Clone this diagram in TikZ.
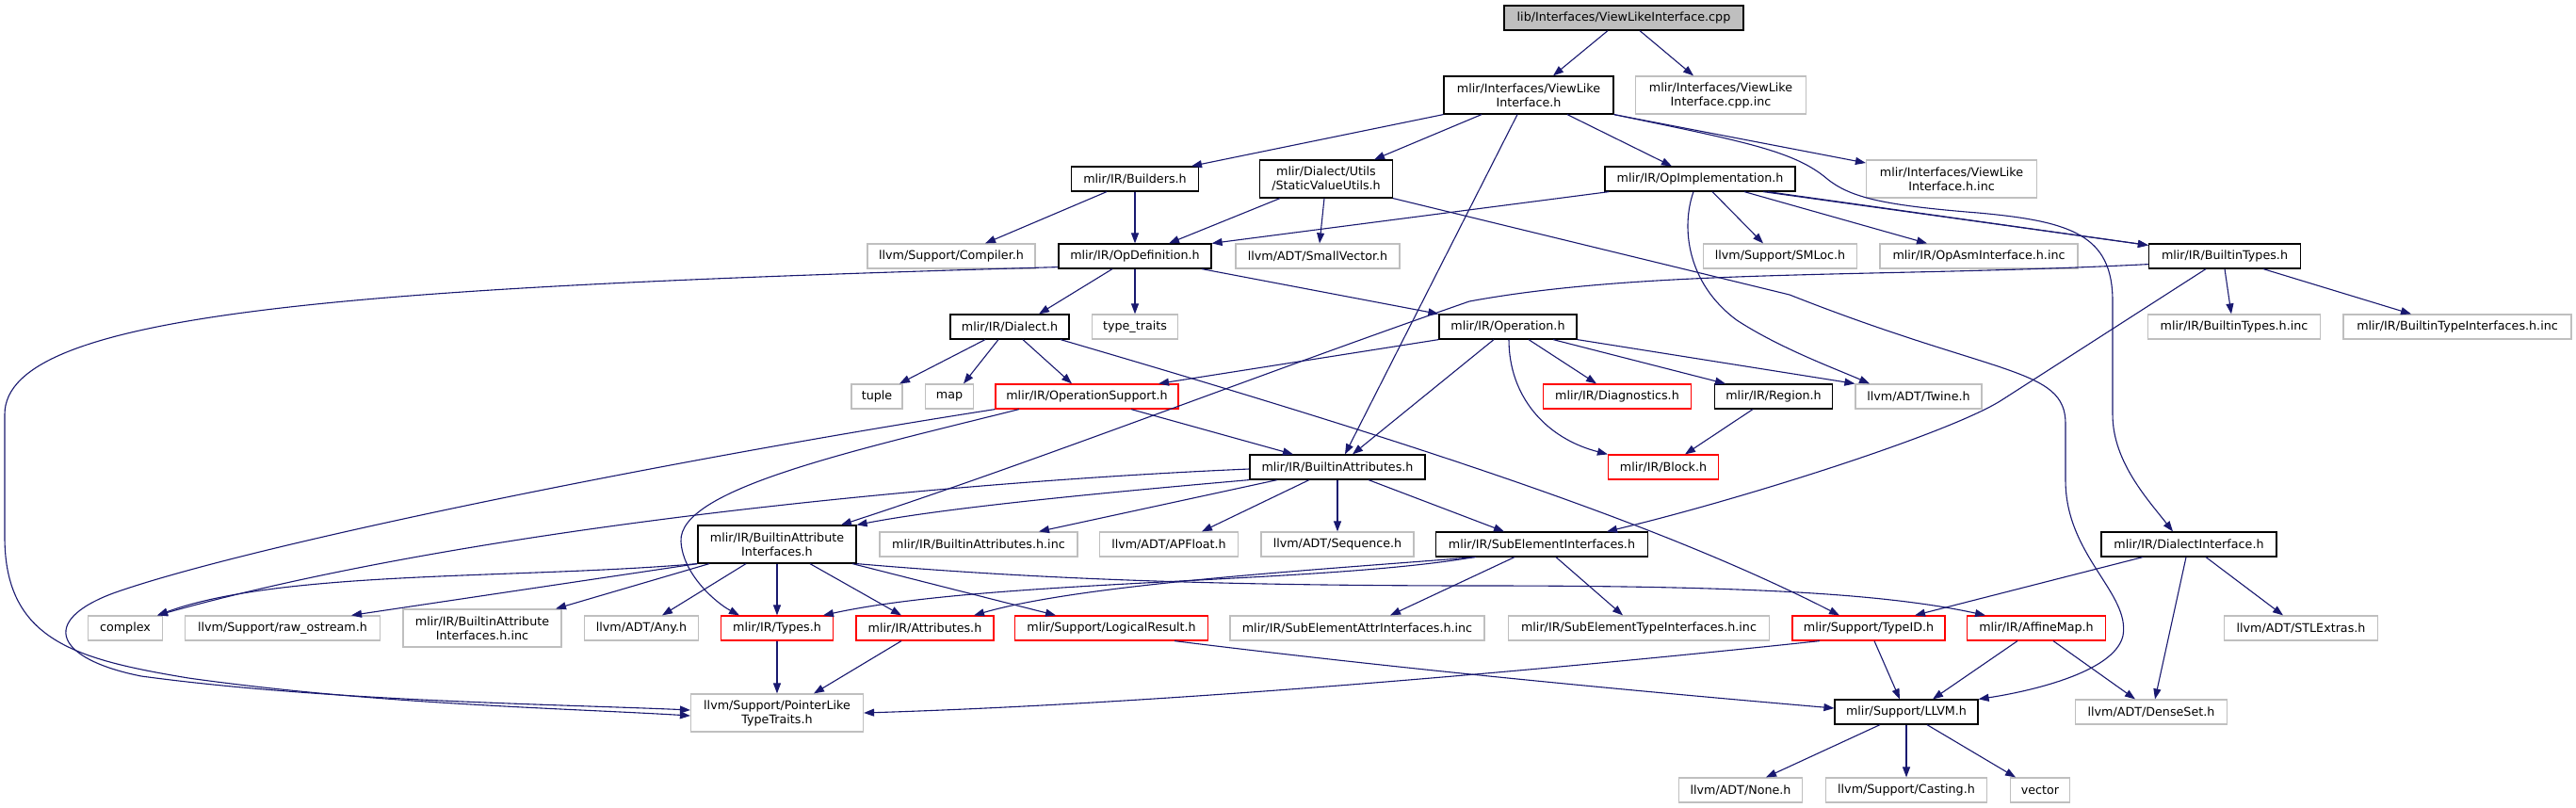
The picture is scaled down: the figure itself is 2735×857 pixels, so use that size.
\documentclass[tikz,border=0pt]{standalone}
\usepackage{fontspec}
\setmainfont{DejaVu Sans}
\usetikzlibrary{arrows.meta}
\definecolor{edgecol}{HTML}{191970}
\definecolor{graybd}{HTML}{BFBFBF}
\definecolor{redbd}{HTML}{FF0000}
\definecolor{rootfill}{HTML}{BFBFBF}
\newcommand\nfs{\fontsize{12.7}{15}\selectfont}
\tikzset{
  box/.style={draw=black, line width=1.2pt, inner sep=0pt, align=center, font=\nfs, minimum height=26pt},
  tall/.style={minimum height=40pt},
  ext/.style={box, draw=graybd},
  trunc/.style={box, draw=redbd},
  root/.style={box, fill=rootfill, draw=black},
  e/.style={draw=edgecol, line width=1.1pt, -{Triangle[length=11pt,width=8pt]}}
}
\begin{document}
\begin{tikzpicture}[x=1pt,y=-1pt]
\fill[white] (0,0) rectangle (2735,857);
\useasboundingbox (0,0) rectangle (2735,857);
% row 0
\node[root, minimum width=254pt] (cpp) at (1724,19) {lib/Interfaces/ViewLikeInterface.cpp};
% row 1
\node[box, tall, minimum width=180pt] (vlh) at (1623,101) {mlir/Interfaces/ViewLike\\Interface.h};
\node[ext, tall, minimum width=181pt] (cppinc) at (1827,101) {mlir/Interfaces/ViewLike\\Interface.cpp.inc};
% row 2
\node[box, minimum width=135pt] (builders) at (1205,190) {mlir/IR/Builders.h};
\node[box, tall, minimum width=141pt] (svu) at (1408,190) {mlir/Dialect/Utils\\/StaticValueUtils.h};
\node[box, minimum width=202pt] (opimpl) at (1805,190) {mlir/IR/OpImplementation.h};
\node[ext, tall, minimum width=181pt] (hinc) at (2072,190) {mlir/Interfaces/ViewLike\\Interface.h.inc};
% row 3
\node[ext, minimum width=178pt] (compiler) at (1010,272) {llvm/Support/Compiler.h};
\node[box, minimum width=162pt] (opdef) at (1205,272) {mlir/IR/OpDefinition.h};
\node[ext, minimum width=174pt] (smallvec) at (1399,272) {llvm/ADT/SmallVector.h};
\node[ext, minimum width=163pt] (smloc) at (1890,272) {llvm/Support/SMLoc.h};
\node[ext, minimum width=210pt] (opasm) at (2101,272) {mlir/IR/OpAsmInterface.h.inc};
\node[box, minimum width=161pt] (btypes) at (2362,272) {mlir/IR/BuiltinTypes.h};
% row 4
\node[box, minimum width=126pt] (dialect) at (1072,347) {mlir/IR/Dialect.h};
\node[ext, minimum width=91pt] (typetraits) at (1205,347) {type\_traits};
\node[box, minimum width=146pt] (operation) at (1601,347) {mlir/IR/Operation.h};
\node[ext, minimum width=183pt] (btinc) at (2372,347) {mlir/IR/BuiltinTypes.h.inc};
\node[ext, minimum width=242pt] (btiinc) at (2609,347) {mlir/IR/BuiltinTypeInterfaces.h.inc};
% row 5
\node[ext, minimum width=54pt] (tuple) at (931,421) {tuple};
\node[ext, minimum width=51pt] (map) at (1008,421) {map};
\node[trunc, minimum width=194pt] (opsupport) at (1154,421) {mlir/IR/OperationSupport.h};
\node[trunc, minimum width=157pt] (diag) at (1717,421) {mlir/IR/Diagnostics.h};
\node[box, minimum width=125pt] (region) at (1883,421) {mlir/IR/Region.h};
\node[ext, minimum width=134pt] (twine) at (2037,421) {llvm/ADT/Twine.h};
% row 6
\node[box, minimum width=186pt] (battr) at (1420,496) {mlir/IR/BuiltinAttributes.h};
\node[trunc, minimum width=117pt] (block) at (1766,496) {mlir/IR/Block.h};
% row 7
\node[box, tall, minimum width=168pt] (bai) at (825,578) {mlir/IR/BuiltinAttribute\\Interfaces.h};
\node[ext, minimum width=210pt] (bainc) at (1039,578) {mlir/IR/BuiltinAttributes.h.inc};
\node[ext, minimum width=147pt] (apfloat) at (1241,578) {llvm/ADT/APFloat.h};
\node[ext, minimum width=162pt] (sequence) at (1420,578) {llvm/ADT/Sequence.h};
\node[box, minimum width=225pt] (subel) at (1637,578) {mlir/IR/SubElementInterfaces.h};
\node[box, minimum width=186pt] (dialectif) at (2324,578) {mlir/IR/DialectInterface.h};
% row 8
\node[ext, minimum width=79pt] (complex) at (133,667) {complex};
\node[ext, minimum width=207pt] (rawos) at (300,667) {llvm/Support/raw\_ostream.h};
\node[ext, tall, minimum width=168pt] (baiinc) at (512,667) {mlir/IR/BuiltinAttribute\\Interfaces.h.inc};
\node[ext, minimum width=121pt] (any) at (681,667) {llvm/ADT/Any.h};
\node[trunc, minimum width=119pt] (types) at (825,667) {mlir/IR/Types.h};
\node[trunc, minimum width=146pt] (attrs) at (982,667) {mlir/IR/Attributes.h};
\node[trunc, minimum width=205pt] (logres) at (1180,667) {mlir/Support/LogicalResult.h};
\node[ext, minimum width=270pt] (seainc) at (1441,667) {mlir/IR/SubElementAttrInterfaces.h.inc};
\node[ext, minimum width=277pt] (setinc) at (1740,667) {mlir/IR/SubElementTypeInterfaces.h.inc};
\node[trunc, minimum width=162pt] (typeid) at (1984,667) {mlir/Support/TypeID.h};
\node[trunc, minimum width=147pt] (affine) at (2162,667) {mlir/IR/AffineMap.h};
\node[ext, minimum width=163pt] (stlextras) at (2443,667) {llvm/ADT/STLExtras.h};
% row 9
\node[ext, tall, minimum width=183pt] (ptrlike) at (825,757) {llvm/Support/PointerLike\\TypeTraits.h};
\node[box, minimum width=152pt] (llvmh) at (2024,756) {mlir/Support/LLVM.h};
\node[ext, minimum width=161pt] (denseset) at (2284,756) {llvm/ADT/DenseSet.h};
% row 10
\node[ext, minimum width=131pt] (none) at (1848,839) {llvm/ADT/None.h};
\node[ext, minimum width=171pt] (casting) at (2024,839) {llvm/Support/Casting.h};
\node[ext, minimum width=63pt] (vector) at (2166,839) {vector};

% edges
\draw[e] ([xshift=-17]cpp.south) -- ([xshift=26]vlh.north);
\draw[e] ([xshift=17]cpp.south) -- ([xshift=-29]cppinc.north);
\draw[e] (vlh.south west) -- ([xshift=60]builders.north);
\draw[e] ([xshift=-50]vlh.south) -- ([xshift=51]svu.north);
\draw[e] ([xshift=-12]vlh.south) -- ([xshift=8]battr.north);
\draw[e] ([xshift=41]vlh.south) -- ([xshift=-30]opimpl.north);
\draw[e] (vlh.south east) -- ([yshift=17]hinc.west);
\draw[e] (vlh.south east) .. controls (1850,150) and (1905,160) .. (1940,190)
  .. controls (1965,210) and (2000,218) .. (2100,226)
  .. controls (2200,235) and (2243,250) .. (2243,320) -- (2243,440)
  .. controls (2243,490) and (2280,530) .. ([xshift=-17]dialectif.north);
\draw[e] ([xshift=5]opimpl.south west) -- (opdef.north east);
\draw[e] ([xshift=13]opimpl.south) -- ([xshift=-18]smloc.north);
\draw[e] ([xshift=47]opimpl.south) -- ([xshift=-55]opasm.north);
\draw[e] ([xshift=67]opimpl.south) -- ([yshift=-2]btypes.north west);
\draw[e] ([xshift=72]opimpl.south) -- ([yshift=-2]btypes.north west);
\draw[e] ([xshift=-7]opimpl.south) .. controls (1785,240) and (1790,300) .. (1844,340)
  .. controls (1890,370) and (1950,392) .. ([xshift=-52]twine.north);
\draw[e] ([xshift=-30]builders.south) -- ([xshift=36]compiler.north);
\draw[e] (builders.south) -- (opdef.north);
\draw[e] ([xshift=-49]svu.south) -- ([xshift=36]opdef.north);
\draw[e] ([xshift=-2]svu.south) -- ([xshift=2]smallvec.north);
\draw[e] (svu.south east) -- (1900,313) .. controls (2120,400) and (2193,390) .. (2193,450) -- (2193,510)
  .. controls (2193,590) and (2262,630) .. (2254,675)
  .. controls (2245,715) and (2150,735) .. (llvmh.north east);
\draw[e] ([xshift=-24]opdef.south) -- ([xshift=31]dialect.north);
\draw[e] (opdef.south) -- (typetraits.north);
\draw[e] ([xshift=71]opdef.south) -- (operation.north west);
\draw[e] ([yshift=2]opdef.south west) .. controls (380,305) and (5,330) .. (5,440) -- (5,570)
  .. controls (5,680) and (80,700) .. (200,720)
  .. controls (400,748) and (600,752) .. ([yshift=-3]ptrlike.west);
\draw[e] ([xshift=-26]dialect.south) -- ([xshift=24]tuple.north);
\draw[e] ([xshift=-12]dialect.south) -- ([xshift=15]map.north);
\draw[e] ([xshift=14]dialect.south) -- ([xshift=-16]opsupport.north);
\draw[e] ([xshift=54]dialect.south) .. controls (1500,470) and (1760,555) .. ([xshift=-31]typeid.north);
\draw[e] (operation.south west) -- ([xshift=76]opsupport.north);
\draw[e] ([xshift=-15]operation.south) -- ([xshift=16]battr.north);
\draw[e] ([xshift=1]operation.south) .. controls (1602,420) and (1640,465) .. (block.north west);
\draw[e] ([xshift=22]operation.south) -- ([xshift=-22]diag.north);
\draw[e] ([xshift=48]operation.south) -- ([xshift=-51]region.north);
\draw[e] (operation.south east) -- (twine.north west);
\draw[e] ([xshift=-22]region.south) -- ([xshift=23]block.north);
\draw[e] (btypes.south) -- ([xshift=-3]btinc.north);
\draw[e] ([xshift=41]btypes.south) -- ([xshift=-49]btiinc.north);
\draw[e] ([yshift=5]btypes.south west) .. controls (2000,295) and (1750,285) .. (1560,320)
  .. controls (1330,400) and (1100,490) .. ([xshift=68]bai.north);
\draw[e] ([xshift=-20]btypes.south) -- (2125,425) .. controls (2070,460) and (1850,530) .. ([xshift=69]subel.north);
\draw[e] ([xshift=47]opsupport.south) -- ([xshift=-47]battr.north);
\draw[e] ([xshift=-72]opsupport.south) .. controls (900,480) and (720,520) .. (723,575)
  .. controls (725,610) and (760,640) .. ([xshift=-40]types.north);
\draw[e] (opsupport.south west) .. controls (700,490) and (260,580) .. (120,630)
  .. controls (40,660) and (60,700) .. (150,718)
  .. controls (350,745) and (600,748) .. ([yshift=3]ptrlike.west);
\draw[e] ([yshift=-2]battr.west) .. controls (1000,512) and (500,560) .. ([xshift=34]complex.north);
\draw[e] ([xshift=-64]battr.south) -- ([xshift=64]bainc.north);
\draw[e] ([xshift=-30]battr.south) -- ([xshift=35]apfloat.north);
\draw[e] (battr.south) -- (sequence.north);
\draw[e] ([xshift=33]battr.south) -- ([xshift=-40]subel.north);
\draw[e] (battr.south west) .. controls (1150,525) and (1000,540) .. (bai.north east);
\draw[e] (bai.south west) .. controls (550,615) and (300,605) .. ([xshift=34]complex.north);
\draw[e] (bai.south west) -- ([xshift=73]rawos.north);
\draw[e] ([xshift=-72]bai.south) -- ([xshift=78]baiinc.north);
\draw[e] ([xshift=-33]bai.south) -- ([xshift=22]any.north);
\draw[e] (bai.south) -- (types.north);
\draw[e] ([xshift=35]bai.south) -- ([xshift=-25]attrs.north);
\draw[e] ([xshift=80]bai.south) -- ([xshift=-59]logres.north);
\draw[e] (bai.south east) .. controls (1100,615) and (1300,622) .. (1574,622)
  .. controls (1850,622) and (2000,630) .. ([xshift=-54]affine.north);
\draw[e] ([xshift=-72]subel.south) .. controls (1400,620) and (1050,615) .. ([xshift=49]types.north);
\draw[e] ([xshift=-70]subel.south) .. controls (1400,605) and (1150,620) .. ([xshift=52]attrs.north);
\draw[e] ([xshift=-29]subel.south) -- ([xshift=35]seainc.north);
\draw[e] ([xshift=15]subel.south) -- ([xshift=-17]setinc.north);
\draw[e] (types.south) -- (ptrlike.north);
\draw[e] ([xshift=-25]attrs.south) -- ([xshift=39]ptrlike.north);
\draw[e] ([xshift=-52]typeid.south) .. controls (1750,700) and (1300,745) .. (ptrlike.east);
\draw[e] ([xshift=6]typeid.south) -- ([xshift=-7]llvmh.north);
\draw[e] ([xshift=67]logres.south) .. controls (1500,712) and (1750,735) .. ([yshift=4]llvmh.west);
\draw[e] ([xshift=-20]affine.south) -- ([xshift=28]llvmh.north);
\draw[e] ([xshift=18]affine.south) -- ([xshift=-17]denseset.north);
\draw[e] ([xshift=-49]dialectif.south) -- ([xshift=49]typeid.north);
\draw[e] ([xshift=-3]dialectif.south) -- ([xshift=4]denseset.north);
\draw[e] ([xshift=18]dialectif.south) -- ([xshift=-19]stlextras.north);
\draw[e] ([xshift=-28]llvmh.south) -- ([xshift=27]none.north);
\draw[e] (llvmh.south) -- (casting.north);
\draw[e] ([xshift=22]llvmh.south) -- ([xshift=-26]vector.north);
\end{tikzpicture}
\end{document}
